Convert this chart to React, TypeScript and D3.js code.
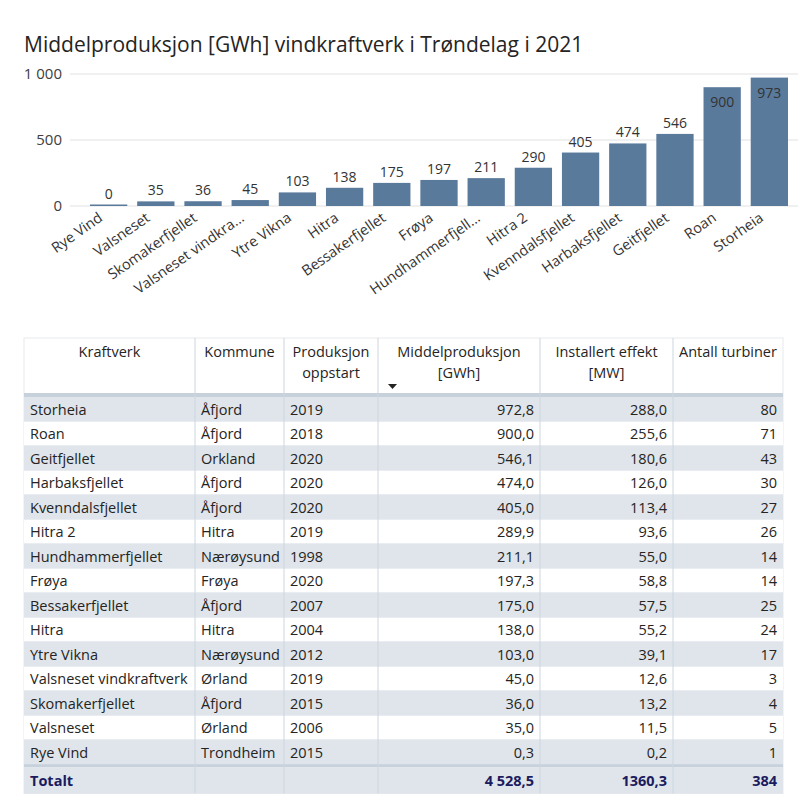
import React from "react";
import * as d3 from "d3";

// table order (sorted by Middelproduksjon, descending)
const plants = [
  "Storheia", "Roan", "Geitfjellet", "Harbaksfjellet", "Kvenndalsfjellet", "Hitra 2",
  "Hundhammerfjellet", "Frøya", "Bessakerfjellet", "Hitra", "Ytre Vikna",
  "Valsneset vindkraftverk", "Skomakerfjellet", "Valsneset", "Rye Vind",
];
const kommuner = [
  "Åfjord", "Åfjord", "Orkland", "Åfjord", "Åfjord", "Hitra", "Nærøysund", "Frøya",
  "Åfjord", "Hitra", "Nærøysund", "Ørland", "Åfjord", "Ørland", "Trondheim",
];
const startYears = [2019, 2018, 2020, 2020, 2020, 2019, 1998, 2020, 2007, 2004, 2012, 2019, 2015, 2006, 2015];
const gwh = [972.8, 900.0, 546.1, 474.0, 405.0, 289.9, 211.1, 197.3, 175.0, 138.0, 103.0, 45.0, 36.0, 35.0, 0.3];
const mw = [288.0, 255.6, 180.6, 126.0, 113.4, 93.6, 55.0, 58.8, 57.5, 55.2, 39.1, 12.6, 13.2, 11.5, 0.2];
const turbines = [80, 71, 43, 30, 27, 26, 14, 14, 25, 24, 17, 3, 4, 5, 1];

// truncated axis labels as the chart shows them
const axisLabels: Record<string, string> = {
  "Valsneset vindkraftverk": "Valsneset vindkra...",
  "Hundhammerfjellet": "Hundhammerfjell...",
};
const yTicks = [0, 500, 1000];

const FONT = "'Open Sans', 'Segoe UI', sans-serif";
const BAR = "#5a7a9b";

const fmt = (v: number, dec: number, group = true) => {
  const [i, f] = v.toFixed(dec).split(".");
  const ip = group ? i.replace(/\B(?=(\d{3})+(?!\d))/g, " ") : i;
  return f ? `${ip},${f}` : ip;
};

function BarChart() {
  const order = d3.range(plants.length).reverse();
  const x = d3.scaleBand<number>().domain(order).range([90, 788]).paddingInner(0.21).paddingOuter(0);
  const y = d3.scaleLinear().domain([0, 1000]).range([206, 74]);
  return (
    <g fontFamily={FONT}>
      <text x={24} y={52} fontSize={21} fill="#252423">
        Middelproduksjon [GWh] vindkraftverk i Trøndelag i 2021
      </text>
      {yTicks.map((t) => (
        <g key={t}>
          <line x1={70} x2={798} y1={y(t)} y2={y(t)} stroke="#e1e1e1" />
          <text x={62} y={y(t) + 5} textAnchor="end" fontSize={15} fill="#404040">
            {fmt(t, 0)}
          </text>
        </g>
      ))}
      {order.map((i) => {
        const top = Math.min(y(gwh[i]), y(0) - 1.5);
        const cx = x(i)! + x.bandwidth() / 2;
        const inside = y(gwh[i]) < 100;
        const name = axisLabels[plants[i]] ?? plants[i];
        return (
          <g key={i}>
            <rect x={x(i)} y={top} width={x.bandwidth()} height={y(0) - top} fill={BAR} />
            <text x={cx} y={inside ? top + 20 : top - 6} textAnchor="middle" fontSize={14} fill="#333">
              {fmt(gwh[i], 0)}
            </text>
            <text
              transform={`translate(${cx - 5},${y(0) + 14}) rotate(-35)`}
              textAnchor="end"
              fontSize={14.5}
              fill="#333"
            >
              {name}
            </text>
          </g>
        );
      })}
    </g>
  );
}

function Table() {
  const cols = [24, 195, 284, 378, 540, 673, 783];
  const align = ["start", "start", "start", "end", "end", "end"];
  const headers = [
    ["Kraftverk"], ["Kommune"], ["Produksjon", "oppstart"], ["Middelproduksjon", "[GWh]"],
    ["Installert effekt", "[MW]"], ["Antall turbiner"],
  ];
  const top = 338, headH = 55, sepH = 4, rowH = 24.5;
  const bodyTop = top + headH + sepH;
  const rowY = d3.scaleLinear().domain([0, plants.length]).range([bodyTop, bodyTop + rowH * plants.length]);
  const totTop = rowY(plants.length) + 3;
  const totH = 26;
  const cells = plants.map((p, i) => [
    p, kommuner[i], String(startYears[i]), fmt(gwh[i], 1), fmt(mw[i], 1), String(turbines[i]),
  ]);
  const totals = ["Totalt", "", "", fmt(d3.sum(gwh), 1), fmt(d3.sum(mw), 1, false), String(d3.sum(turbines))];
  const tx = (c: number) => (align[c] === "start" ? cols[c] + 6 : cols[c + 1] - 6);
  return (
    <g fontFamily={FONT} fontSize={14.5}>
      <rect x={cols[0]} y={top} width={cols[6] - cols[0]} height={totTop + totH - top} fill="#fff" stroke="#e6e9ed" />
      {headers.map((h, c) => (
        <g key={c}>
          {h.map((line, k) => (
            <text key={k} x={(cols[c] + cols[c + 1]) / 2} y={top + 19 + k * 21} textAnchor="middle" fill="#252423">
              {line}
            </text>
          ))}
        </g>
      ))}
      <path d={`M${cols[4] - 152},${top + 46} l9,0 l-4.5,5 z`} fill="#252423" />
      <rect x={cols[0]} y={top + headH} width={cols[6] - cols[0]} height={sepH} fill="#c6d1dc" />
      {cells.map((row, i) => (
        <g key={i}>
          <rect
            x={cols[0]}
            y={rowY(i)}
            width={cols[6] - cols[0]}
            height={rowH}
            fill={i % 2 === 0 ? "#dfe5eb" : "#ffffff"}
          />
          <line x1={cols[0]} x2={cols[6]} y1={rowY(i + 1)} y2={rowY(i + 1)} stroke="#d3dbe4" />
          {row.map((v, c) => (
            <text key={c} x={tx(c)} y={rowY(i) + 17.5} textAnchor={align[c]} fill="#252423">
              {v}
            </text>
          ))}
        </g>
      ))}
      <rect x={cols[0]} y={rowY(plants.length)} width={cols[6] - cols[0]} height={3} fill="#c6d1dc" />
      <rect x={cols[0]} y={totTop} width={cols[6] - cols[0]} height={totH} fill="#dfe5eb" />
      {totals.map((v, c) => (
        <text key={c} x={tx(c)} y={totTop + 18} textAnchor={align[c]} fill="#1b1b5e" fontWeight={700}>
          {v}
        </text>
      ))}
      {cols.slice(1, 6).map((cx, k) => (
        <line key={k} x1={cx} x2={cx} y1={top} y2={totTop + totH} stroke="#cdd6df" />
      ))}
    </g>
  );
}

export default function App() {
  return (
    <svg
      width={800}
      height={810}
      style={{ position: "absolute", left: 0, top: 0, background: "#fff" }}
    >
      <BarChart />
      <Table />
    </svg>
  );
}
